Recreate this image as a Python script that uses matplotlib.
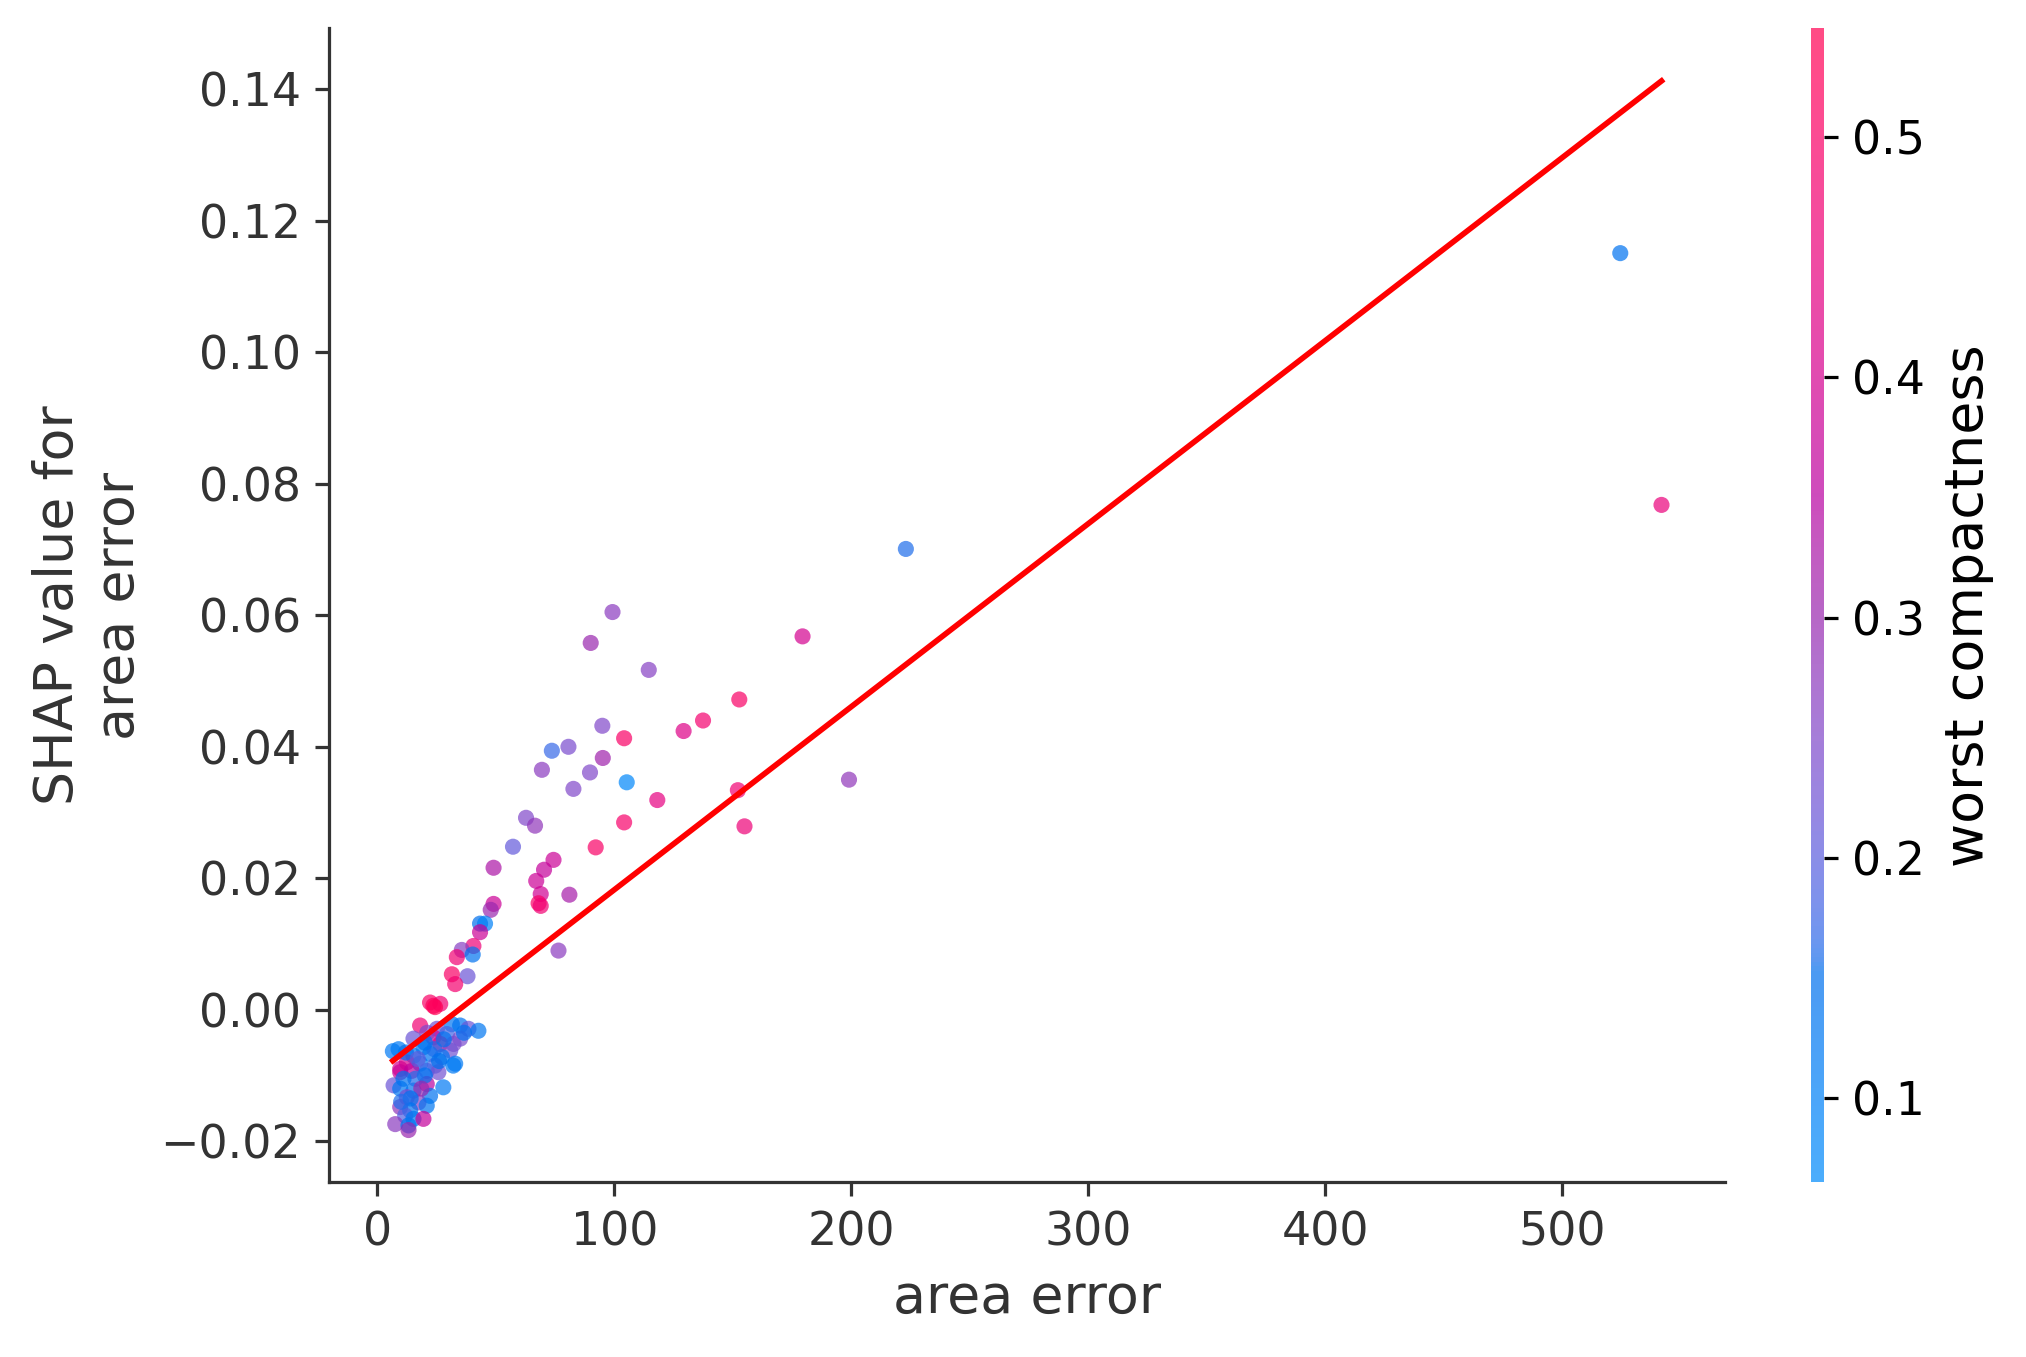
import numpy as np
import matplotlib
matplotlib.use("Agg")
import matplotlib.pyplot as plt
from matplotlib.colors import LinearSegmentedColormap

# ---------------- data ----------------
area_error = [
    524.5, 541.9, 223.0, 179.4, 99.2, 90.0, 114.5, 152.7, 137.4, 129.2,
    94.9, 104.1, 199.0, 105.2, 95.1, 80.6, 73.6, 89.7, 69.4, 82.7,
    152.1, 118.1, 104.1, 154.9, 62.7, 66.5, 92.1, 57.2, 74.3, 49.0,
    70.3, 67.0, 81.0, 68.9, 68.0, 68.9, 49.0, 47.8, 43.3, 45.4,
    43.3, 76.4,
    40.5, 35.6, 33.5, 40.2, 38.0, 31.4, 32.8, 22.2, 26.5, 24.3, 23.6,
    18.0, 25.1, 31.4, 34.9, 38.4, 42.6, 29.3, 23.6, 15.2, 34.9,
    26.5, 32.1, 8.9, 19.4, 22.2, 30.7, 15.2, 27.2, 32.8, 12.4,
    18.0, 24.3, 9.6, 9.6, 14.5, 20.8, 25.7, 32.0, 6.8, 9.6,
    15.2, 20.8, 27.8, 22.2, 12.4, 17.3, 20.8, 9.6, 13.8, 11.7,
    15.2, 19.4, 7.5, 13.1, 13.1,
    12.0, 17.0, 20.0, 16.0, 11.0, 24.0, 28.0, 21.0, 18.5, 14.0,
    10.0, 26.0, 20.0, 36.5, 6.5,
]
shap_area_error = [
    0.1151, 0.0768, 0.0701, 0.0568, 0.0605, 0.0558, 0.0517, 0.0472, 0.0440, 0.0424,
    0.0432, 0.0413, 0.0350, 0.0346, 0.0383, 0.0400, 0.0394, 0.0361, 0.0365, 0.0336,
    0.0334, 0.0319, 0.0285, 0.0279, 0.0292, 0.0280, 0.0247, 0.0248, 0.0228, 0.0216,
    0.0213, 0.0196, 0.0175, 0.0176, 0.0162, 0.0158, 0.0161, 0.0152, 0.0131, 0.0131,
    0.0118, 0.0090,
    0.0097, 0.0091, 0.0080, 0.0084, 0.0051, 0.0054, 0.0039, 0.0011, 0.0009, 0.0004, 0.0006,
    -0.0024, -0.0029, -0.0022, -0.0024, -0.0029, -0.0032, -0.0037, -0.0042, -0.0044, -0.0044,
    -0.0052, -0.0052, -0.0060, -0.0057, -0.0067, -0.0062, -0.0070, -0.0072, -0.0082, -0.0080,
    -0.0082, -0.0085, -0.0090, -0.0095, -0.0093, -0.0093, -0.0095, -0.0085, -0.0115, -0.0120,
    -0.0123, -0.0113, -0.0118, -0.0131, -0.0133, -0.0141, -0.0146, -0.0148, -0.0153, -0.0161,
    -0.0166, -0.0166, -0.0174, -0.0176, -0.0183,
    -0.0065, -0.0075, -0.0100, -0.0105, -0.0105, -0.0060, -0.0045, -0.0035, -0.0120, -0.0135,
    -0.0140, -0.0078, -0.0050, -0.0035, -0.0063,
]
worst_compactness = [
    0.14, 0.45, 0.16, 0.40, 0.27, 0.30, 0.26, 0.50, 0.48, 0.42,
    0.25, 0.50, 0.28, 0.08, 0.31, 0.24, 0.17, 0.25, 0.27, 0.25,
    0.47, 0.44, 0.49, 0.46, 0.25, 0.28, 0.50, 0.21, 0.38, 0.33,
    0.37, 0.38, 0.32, 0.39, 0.50, 0.47, 0.38, 0.30, 0.15, 0.10,
    0.38, 0.27,
    0.46, 0.26, 0.47, 0.14, 0.22, 0.50, 0.48, 0.50, 0.47, 0.54, 0.52,
    0.47, 0.23, 0.13, 0.14, 0.22, 0.13, 0.18, 0.40, 0.22, 0.24,
    0.44, 0.24, 0.12, 0.13, 0.14, 0.23, 0.14, 0.13, 0.12, 0.40,
    0.13, 0.18, 0.40, 0.38, 0.36, 0.18, 0.23, 0.12, 0.22, 0.13,
    0.14, 0.35, 0.12, 0.14, 0.24, 0.26, 0.13, 0.28, 0.14, 0.19,
    0.13, 0.37, 0.27, 0.14, 0.30,
    0.15, 0.20, 0.14, 0.16, 0.14, 0.16, 0.14, 0.25, 0.30, 0.14,
    0.16, 0.15, 0.14, 0.14, 0.12,
]
color_min, color_max = 0.065, 0.545          # colour scale limits
fit_slope, fit_intercept = 0.0002784, -0.00957  # red trend line

x_label = "area error"
y_label = "SHAP value for\narea error"
c_label = "worst compactness"

# ---------------- SHAP-like red_blue colormap ----------------
def lch2rgb(l, c, h):
    a = c * np.cos(h)
    b = c * np.sin(h)
    fy = (l + 16.0) / 116.0
    fx = fy + a / 500.0
    fz = fy - b / 200.0
    def finv(t):
        return t ** 3 if t ** 3 > 0.008856 else (t - 16.0 / 116.0) / 7.787
    X = 0.95047 * finv(fx)
    Y = 1.00000 * finv(fy)
    Z = 1.08883 * finv(fz)
    M = np.array([[3.2404542, -1.5371385, -0.4985314],
                  [-0.9692660, 1.8760108, 0.0415560],
                  [0.0556434, -0.2040259, 1.0572252]])
    lin = M @ np.array([X, Y, Z])
    out = np.where(lin > 0.0031308, 1.055 * np.abs(lin) ** (1 / 2.4) - 0.055, 12.92 * lin)
    return np.clip(out, 0, 1)

blue_lch = [54.0, 70.0, 4.6588]
l_mid = 40.0
red_lch = [54.0, 90.0, 0.35470565 + 2 * np.pi]
nsteps = 100
l_vals = list(np.linspace(blue_lch[0], l_mid, nsteps // 2)) + list(np.linspace(l_mid, red_lch[0], nsteps // 2))
c_vals = np.linspace(blue_lch[1], red_lch[1], nsteps)
h_vals = np.linspace(blue_lch[2], red_lch[2], nsteps)
cols = [lch2rgb(l, c, h) for l, c, h in zip(l_vals, c_vals, h_vals)]
red_blue = LinearSegmentedColormap.from_list("red_blue", cols)

# ---------------- figure ----------------
DPI = 290
fig = plt.figure(figsize=(2026 / DPI, 1357 / DPI), dpi=DPI)
ax = fig.add_axes([0.1626, 0.1286, 0.6888, 0.8504])
cax = fig.add_axes([0.894, 0.1286, 0.0064, 0.8504])

axis_color = "#333333"
sc = ax.scatter(area_error, shap_area_error, c=worst_compactness, cmap=red_blue,
                vmin=color_min, vmax=color_max, s=16, alpha=0.7, linewidth=0)

xs = np.array([min(area_error), max(area_error)])
ax.plot(xs, fit_intercept + fit_slope * xs, color="red", linewidth=1.4)

ax.set_xlabel(x_label, color=axis_color, fontsize=13.4)
ax.set_ylabel(y_label, color=axis_color, fontsize=13.4)
ax.spines["right"].set_visible(False)
ax.spines["top"].set_visible(False)
ax.spines["left"].set_color(axis_color)
ax.spines["bottom"].set_color(axis_color)
ax.tick_params(color=axis_color, labelcolor=axis_color, labelsize=11.4)
ax.set_xticks([0, 100, 200, 300, 400, 500])
ax.set_yticks([-0.02, 0.0, 0.02, 0.04, 0.06, 0.08, 0.10, 0.12, 0.14])

cb = fig.colorbar(sc, cax=cax)
cb.outline.set_visible(False)
cb.set_label(c_label, size=13.4)
cb.ax.tick_params(labelsize=11.4)
cb.set_ticks([0.1, 0.2, 0.3, 0.4, 0.5])

fig.savefig("out.png", dpi=DPI)
